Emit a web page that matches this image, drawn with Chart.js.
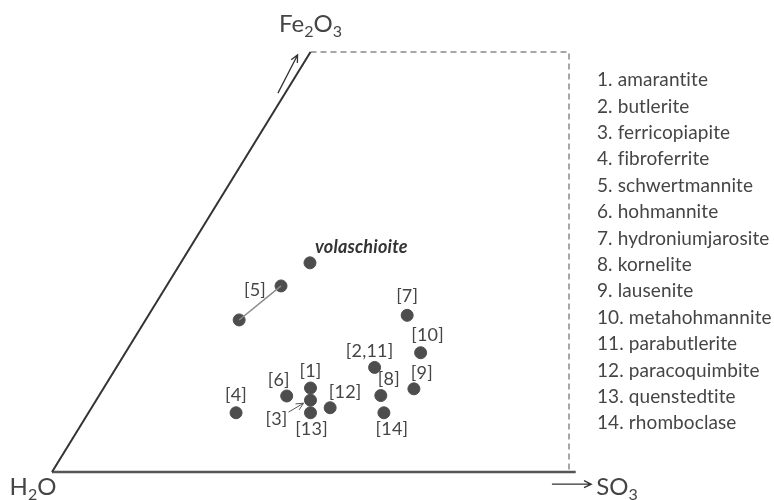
<!DOCTYPE html>
<html>
<head>
<meta charset="utf-8">
<script src="https://cdn.jsdelivr.net/npm/chart.js@4.4.1/dist/chart.umd.min.js"></script>
<style>
  html, body { margin: 0; padding: 0; background: #fff; }
  #diagrama { display: block; }
</style>
</head>
<body>
<canvas id="diagrama" width="774" height="500"></canvas>
<script>
// esquinas del diagrama (H2O, SO3, Fe2O3) en unidades del grafico
const esquinaH2O = { x: 0, y: 0 };
const esquinaSO3 = { x: 100, y: 0 };
const esquinaFe = { x: 50, y: 100 };

// puntos de los minerales
const etiquetas = ['volaschioite', '[5]', '', '[7]', '[10]', '[2,11]', '[9]', '[8]', '[14]', '[1]', '[3]', '[13]', '[12]', '[6]', '[4]'];
const valoresX = [49.9, 44.3, 36.2, 68.7, 71.3, 62.4, 70.0, 63.6, 64.2, 50.0, 50.0, 50.0, 53.8, 45.4, 35.6];
const valoresY = [49.8, 44.3, 36.2, 37.3, 28.4, 24.9, 19.8, 18.2, 14.1, 20.0, 17.1, 14.1, 15.3, 18.1, 14.1];

// lista de minerales a la derecha
const minerales = ['1. amarantite', '2. butlerite', '3. ferricopiapite', '4. fibroferrite', '5. schwertmannite',
  '6. hohmannite', '7. hydroniumjarosite', '8. kornelite', '9. lausenite', '10. metahohmannite',
  '11. parabutlerite', '12. paracoquimbite', '13. quenstedtite', '14. rhomboclase'];

// desplazamiento de cada etiqueta respecto a su punto (px)
const desplazamientos = [[5, -16], [-26, 4], [0, 0], [0, -19], [7, -18], [-5, -16], [8, -16], [8, -16],
  [8, 16], [0, -17], [-34, 19], [1, 16], [15, -16], [-8, -16], [0, -18]];

const puntos = valoresX.map((x, i) => ({ x: x, y: valoresY[i] }));
const FUENTE = 'Lato, "Open Sans", sans-serif';
const GRIS = '#454545';

function flecha(ctx, x1, y1, x2, y2) {
  const ang = Math.atan2(y2 - y1, x2 - x1);
  ctx.beginPath();
  ctx.moveTo(x1, y1);
  ctx.lineTo(x2, y2);
  ctx.moveTo(x2 - 8 * Math.cos(ang - 0.45), y2 - 8 * Math.sin(ang - 0.45));
  ctx.lineTo(x2, y2);
  ctx.lineTo(x2 - 8 * Math.cos(ang + 0.45), y2 - 8 * Math.sin(ang + 0.45));
  ctx.stroke();
}

// texto con subindices: partes = [[texto, esSub], ...]
function formula(ctx, partes, x, y) {
  let ancho = 0;
  partes.forEach(p => {
    ctx.font = (p[1] ? '16px ' : '24px ') + FUENTE;
    ancho += ctx.measureText(p[0]).width;
  });
  let cx = x - ancho / 2;
  partes.forEach(p => {
    ctx.font = (p[1] ? '16px ' : '24px ') + FUENTE;
    ctx.fillText(p[0], cx, p[1] ? y + 5 : y);
    cx += ctx.measureText(p[0]).width;
  });
}

const extras = {
  id: 'extras',
  afterDatasetsDraw(chart) {
    const ctx = chart.ctx;
    const sx = chart.scales.x, sy = chart.scales.y;
    ctx.save();
    ctx.fillStyle = GRIS;
    ctx.textBaseline = 'middle';
    // sin ligaduras (ti, fi)
    ctx.letterSpacing = '0.2px';

    // etiquetas de los puntos
    etiquetas.forEach((t, i) => {
      if (!t) return;
      const px = sx.getPixelForValue(valoresX[i]) + desplazamientos[i][0];
      const py = sy.getPixelForValue(valoresY[i]) + desplazamientos[i][1];
      if (i === 0) {
        ctx.font = 'italic bold 18px ' + FUENTE;
        ctx.fillStyle = '#333';
        ctx.textAlign = 'left';
      } else {
        ctx.font = '18px ' + FUENTE;
        ctx.fillStyle = GRIS;
        ctx.textAlign = 'center';
      }
      ctx.fillText(t, px, py);
    });

    // flecha pequena hacia [3]
    ctx.strokeStyle = '#555';
    ctx.lineWidth = 1;
    const p3x = sx.getPixelForValue(valoresX[10]), p3y = sy.getPixelForValue(valoresY[10]);
    flecha(ctx, p3x - 22, p3y + 12, p3x - 7, p3y + 3);

    // flechas de los ejes
    ctx.strokeStyle = '#333';
    ctx.lineWidth = 1.3;
    flecha(ctx, sx.getPixelForValue(43.7), sy.getPixelForValue(90.2), sx.getPixelForValue(47.5), sy.getPixelForValue(99.3));
    flecha(ctx, sx.getPixelForValue(96.7), sy.getPixelForValue(-2.9), sx.getPixelForValue(104.3), sy.getPixelForValue(-2.9));

    // nombres de los vertices
    ctx.fillStyle = GRIS;
    ctx.textBaseline = 'alphabetic';
    ctx.textAlign = 'left';
    ctx.letterSpacing = '0px';
    formula(ctx, [['Fe', 0], ['2', 1], ['O', 0], ['3', 1]], sx.getPixelForValue(esquinaFe.x), sy.getPixelForValue(esquinaFe.y) - 20);
    formula(ctx, [['H', 0], ['2', 1], ['O', 0]], sx.getPixelForValue(esquinaH2O.x) - 19, sy.getPixelForValue(esquinaH2O.y) + 23);
    formula(ctx, [['SO', 0], ['3', 1]], sx.getPixelForValue(esquinaSO3.x) + 48, sy.getPixelForValue(esquinaSO3.y) + 23);

    // lista de minerales
    ctx.font = '19px ' + FUENTE;
    ctx.textBaseline = 'middle';
    ctx.letterSpacing = '0.1px';
    minerales.forEach((m, i) => {
      ctx.fillText(m, 597, 80 + i * 26.4);
    });
    ctx.restore();
  }
};

const ctx = document.getElementById('diagrama').getContext('2d');
const diagrama = new Chart(ctx, {
  type: 'scatter',
  data: {
    datasets: [
      {
        type: 'line',
        data: [esquinaH2O, esquinaFe],
        borderColor: '#333',
        borderWidth: 2,
        pointRadius: 0,
        clip: false
      },
      {
        type: 'line',
        data: [esquinaH2O, { x: esquinaSO3.x + 1.3, y: esquinaSO3.y }],
        borderColor: '#555',
        borderWidth: 2.6,
        pointRadius: 0,
        clip: false
      },
      {
        type: 'line',
        data: [esquinaFe, { x: esquinaSO3.x, y: esquinaFe.y }, esquinaSO3],
        borderColor: '#8a8a8a',
        borderWidth: 1.5,
        borderDash: [6, 4],
        pointRadius: 0,
        clip: false
      },
      {
        type: 'line',
        data: [puntos[1], puntos[2]],
        borderColor: '#8a8a8a',
        borderWidth: 1.5,
        pointRadius: 0
      },
      {
        data: puntos,
        backgroundColor: '#4d4d4d',
        borderColor: '#4d4d4d',
        pointRadius: 6,
        clip: false
      }
    ]
  },
  options: {
    responsive: false,
    animation: false,
    devicePixelRatio: 1,
    layout: { padding: { left: 52, right: 205, top: 52, bottom: 28 } },
    plugins: { legend: { display: false }, tooltip: { enabled: false } },
    scales: {
      x: { type: 'linear', min: 0, max: 100, display: false },
      y: { type: 'linear', min: 0, max: 100, display: false }
    }
  },
  plugins: [extras]
});
</script>
</body>
</html>
